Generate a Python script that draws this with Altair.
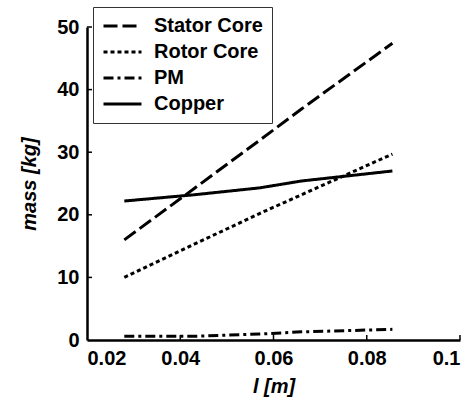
import altair as alt
import pandas as pd

length_m = [0.028, 0.043, 0.057, 0.066, 0.0855]
stator_core = [16.0, 24.2, 31.9, 36.9, 47.4]
rotor_core = [10.0, 15.3, 20.2, 23.2, 29.7]
pm = [0.6, 0.6, 0.95, 1.3, 1.7]
copper = [22.2, 23.2, 24.3, 25.4, 27.0]

series_names = ["Stator Core", "Rotor Core", "PM", "Copper"]
series_dash = [[14, 5], [4, 3], [10, 4, 3, 4], [1, 0]]
x_ticks = [0.02, 0.04, 0.06, 0.08, 0.1]
y_ticks = [0, 10, 20, 30, 40, 50]

rows = []
for name, vals in zip(series_names, [stator_core, rotor_core, pm, copper]):
    for x, y in zip(length_m, vals):
        rows.append({"l": x, "mass": y, "series": name})
df = pd.DataFrame(rows)

W, H = 373, 313
FONT = "Liberation Sans"

xscale = alt.Scale(domain=[0.02, 0.1], nice=False, zero=False)
yscale = alt.Scale(domain=[0, 50], nice=False)

lines = alt.Chart(df).mark_line(color="black", strokeWidth=3).encode(
    x=alt.X("l:Q", scale=xscale,
            axis=alt.Axis(title="l [m]", values=x_ticks, format=".2~f", ticks=False,
                          labelPadding=8, titlePadding=8)),
    y=alt.Y("mass:Q", scale=yscale,
            axis=alt.Axis(title="mass [kg]", values=y_ticks, ticks=False,
                          labelPadding=8, titlePadding=17)),
    strokeDash=alt.StrokeDash(
        "series:N",
        scale=alt.Scale(domain=series_names, range=series_dash),
        sort=series_names,
        legend=alt.Legend(
            title=None, orient="none", legendX=6, legendY=-20,
            symbolType="stroke", symbolSize=1444, symbolStrokeWidth=3,
            symbolStrokeColor="black", clipHeight=20, rowPadding=6,
            padding=9, labelOffset=11, labelFont=FONT, labelFontSize=20,
            labelFontWeight="bold", labelColor="black",
            strokeColor="#333333", fillColor="white",
        ),
    ),
    detail="series:N",
)

xt = pd.DataFrame({"v": x_ticks[1:]})
xtick_marks = alt.Chart(xt).mark_rule(color="black", strokeWidth=1.5).encode(
    x=alt.X("v:Q", scale=xscale), y=alt.value(H), y2=alt.value(H - 5)
)
yt = pd.DataFrame({"v": y_ticks[1:]})
ytick_marks = alt.Chart(yt).mark_rule(color="black", strokeWidth=1.5).encode(
    y=alt.Y("v:Q", scale=yscale), x=alt.value(0), x2=alt.value(5)
)

chart = alt.layer(lines, xtick_marks, ytick_marks).properties(
    width=W, height=H,
    background="white",
    autosize=alt.AutoSizeParams(type="none"),
    padding={"left": 87, "top": 27, "right": 16, "bottom": 60},
).configure_view(stroke=None).configure_axis(
    domainColor="black", domainWidth=2.5, grid=False,
    labelFont=FONT, labelFontSize=20, labelFontWeight="bold", labelColor="black",
    titleFont=FONT, titleFontSize=20, titleFontWeight="bold", titleFontStyle="italic",
    titleColor="black",
)

chart.save("out.html", embed_options={"renderer": "svg", "actions": False})
